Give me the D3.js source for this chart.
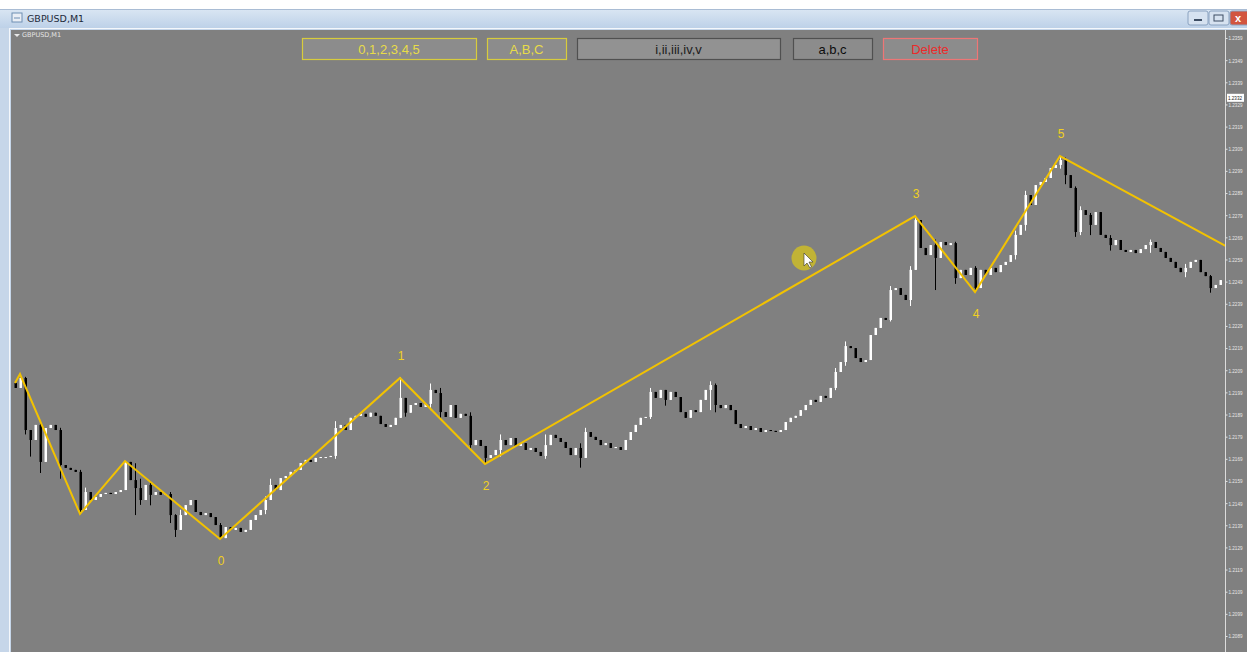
<!DOCTYPE html>
<html lang="en">
<head>
<meta charset="UTF-8">
<title>GBPUSD,M1</title>
<script src="https://d3js.org/d3.v7.min.js"></script>
<style>
  html, body { margin: 0; padding: 0; background: #ffffff; overflow: hidden; }
  svg { display: block; }
</style>
</head>
<body>
<div id="chart"></div>
<script>

// M1 closes, one per bar (open = previous close)
const closes = [
  1.22010,1.22055,1.21820,1.21775,1.21843,1.21676,1.21829,1.21843,1.21820,1.21662,
  1.21649,1.21640,1.21631,1.21459,1.21540,1.21504,1.21518,1.21531,1.21536,1.21531,
  1.21540,1.21549,1.21676,1.21594,1.21558,1.21504,1.21572,1.21527,1.21540,1.21527,
  1.21531,1.21436,1.21369,1.21436,1.21481,1.21504,1.21450,1.21436,1.21445,1.21427,
  1.21391,1.21332,1.21382,1.21369,1.21378,1.21360,1.21369,1.21414,1.21436,1.21459,
  1.21504,1.21572,1.21549,1.21603,1.21612,1.21631,1.21640,1.21671,1.21685,1.21676,
  1.21694,1.21698,1.21698,1.21703,1.21829,1.21843,1.21820,1.21875,1.21884,1.21893,
  1.21880,1.21898,1.21884,1.21847,1.21834,1.21843,1.21875,1.21965,1.21898,1.21933,
  1.21942,1.21924,1.21938,1.22001,1.21987,1.21901,1.21879,1.21933,1.21875,1.21893,
  1.21884,1.21752,1.21775,1.21748,1.21694,1.21707,1.21730,1.21775,1.21752,1.21784,
  1.21748,1.21761,1.21730,1.21739,1.21721,1.21703,1.21752,1.21798,1.21784,1.21766,
  1.21739,1.21707,1.21739,1.21694,1.21811,1.21789,1.21775,1.21752,1.21761,1.21739,
  1.21743,1.21730,1.21775,1.21811,1.21843,1.21875,1.21879,1.21992,1.21965,1.22001,
  1.21956,1.21992,1.21969,1.21901,1.21875,1.21910,1.21901,1.21956,1.22001,1.22023,
  1.21933,1.21919,1.21933,1.21910,1.21847,1.21829,1.21838,1.21820,1.21829,1.21811,
  1.21820,1.21816,1.21811,1.21820,1.21856,1.21875,1.21884,1.21910,1.21933,1.21956,
  1.21947,1.21974,1.21965,1.22010,1.22082,1.22127,1.22199,1.22190,1.22145,1.22127,
  1.22136,1.22249,1.22281,1.22326,1.22317,1.22452,1.22461,1.22430,1.22407,1.22543,
  1.22768,1.22642,1.22610,1.22655,1.22597,1.22669,1.22655,1.22664,1.22506,1.22543,
  1.22520,1.22552,1.22461,1.22543,1.22520,1.22552,1.22533,1.22565,1.22579,1.22610,
  1.22701,1.22746,1.22881,1.22836,1.22926,1.22940,1.22958,1.23003,1.23017,1.23039,
  1.22971,1.22913,1.22714,1.22813,1.22791,1.22746,1.22804,1.22701,1.22687,1.22655,
  1.22678,1.22633,1.22624,1.22633,1.22619,1.22637,1.22655,1.22669,1.22642,1.22624,
  1.22597,1.22579,1.22552,1.22533,1.22552,1.22579,1.22588,1.22533,1.22515,1.22461,
  1.22475,1.22497
];
const firstOpen = 1.22032;

// bars with visible wicks (index, high, low)
const wickBars  = [2, 3, 5, 9, 13, 14, 22, 24, 25, 27, 31, 32, 33, 41, 50, 51, 64, 77, 78, 83, 85, 91, 94, 97, 106, 113, 114, 127, 130, 139, 140, 164, 166, 175, 179, 180, 184, 188, 192, 200, 202, 209, 210, 212, 213, 215, 219, 227, 234, 239];
const wickHighs = [1.22060, 1.21800, 1.21860, 1.21830, 1.21640, 1.21560, 1.21680, 1.21670, 1.21600, 1.21590, 1.21540, 1.21440, 1.21460, 1.21400, 1.21520, 1.21600, 1.21860, 1.22059, 1.21960, 1.22030, 1.22010, 1.21900, 1.21740, 1.21800, 1.21800, 1.21760, 1.21830, 1.22010, 1.21990, 1.22040, 1.22030, 1.22100, 1.22220, 1.22470, 1.22560, 1.22786, 1.22680, 1.22670, 1.22560, 1.22720, 1.22900, 1.23057, 1.23050, 1.22920, 1.22830, 1.22800, 1.22700, 1.22680, 1.22570, 1.22520];
const wickLows  = [1.21800, 1.21700, 1.21626, 1.21600, 1.21441, 1.21480, 1.21590, 1.21436, 1.21482, 1.21480, 1.21400, 1.21337, 1.21400, 1.21328, 1.21440, 1.21540, 1.21690, 1.21880, 1.21880, 1.21910, 1.21870, 1.21730, 1.21667, 1.21700, 1.21690, 1.21650, 1.21700, 1.21870, 1.21930, 1.21910, 1.21900, 1.22000, 1.22110, 1.22310, 1.22380, 1.22740, 1.22452, 1.22480, 1.22443, 1.22590, 1.22720, 1.23000, 1.22930, 1.22692, 1.22700, 1.22700, 1.22630, 1.22620, 1.22510, 1.22440];

// Elliott wave polyline: bar index and price of each vertex
const waveIdx   = [0, 1, 13, 22, 41, 77, 94, 180, 192, 209, 244];
const wavePrice = [1.22032, 1.22073, 1.21441, 1.21680, 1.21328, 1.22055, 1.21667, 1.22786, 1.22443, 1.23057, 1.22628];

// wave labels
const labelText = ["0", "1", "2", "3", "4", "5"];
const labelIdx  = [41, 77, 94, 180, 192, 209];
const labelSide = ["below", "above", "below", "above", "below", "above"];

// price scale ticks
const tickValues = [1.2359,1.2349,1.2339,1.2329,1.2319,1.2309,1.2299,1.2289,1.2279,1.2269,1.2259,1.2249,1.2239,
                    1.2229,1.2219,1.2209,1.2199,1.2189,1.2179,1.2169,1.2159,1.2149,1.2139,1.2129,1.2119,1.2109,1.2099,1.2089];
const currentPrice = 1.2332;

// buttons on the chart
const buttonText = ["0,1,2,3,4,5", "A,B,C", "i,ii,iii,iv,v", "a,b,c", "Delete"];

const W = 1247, H = 652;
const chartLeft = 11, chartTop = 30, axisX = 1225;
const tinyFont = "'Liberation Sans Narrow', 'Liberation Sans', Arial, sans-serif";

const svg = d3.select("#chart").append("svg")
  .attr("width", W)
  .attr("height", H)
  .style("font-family", "'Liberation Sans', Arial, sans-serif");

// ---- window chrome ----
const defs = svg.append("defs");
const grad = defs.append("linearGradient").attr("id", "titleGrad").attr("x1", 0).attr("y1", 0).attr("x2", 0).attr("y2", 1);
grad.append("stop").attr("offset", "0%").attr("stop-color", "#dae6f3");
grad.append("stop").attr("offset", "100%").attr("stop-color", "#bdd1e8");

svg.append("rect").attr("x", 0).attr("y", 9).attr("width", W).attr("height", H - 9).attr("fill", "#c6d6e9");
svg.append("rect").attr("x", 0).attr("y", 9).attr("width", W).attr("height", 19).attr("fill", "url(#titleGrad)");
svg.append("line").attr("x1", 0).attr("x2", W).attr("y1", 9.5).attr("y2", 9.5).attr("stroke", "#a9bcd4");

// title icon + text
svg.append("rect").attr("x", 12).attr("y", 13).attr("width", 10).attr("height", 9)
  .attr("fill", "#e9eef5").attr("stroke", "#6f8fb3");
svg.append("line").attr("x1", 14).attr("x2", 20).attr("y1", 18).attr("y2", 18).attr("stroke", "#6f8fb3");
svg.append("text").attr("x", 27).attr("y", 22).attr("font-size", 9.5)
  .attr("font-family", "'DejaVu Sans', sans-serif").attr("fill", "#1e2a3a").text("GBPUSD,M1");

// min / max / close
const winBtns = [{x: 1188, w: 20, c: "#d6e2f0"}, {x: 1209, w: 20, c: "#d6e2f0"}, {x: 1230, w: 20, c: "#d2553f"}];
svg.selectAll(".winbtn").data(winBtns).enter().append("rect")
  .attr("x", d => d.x).attr("y", 11).attr("width", d => d.w).attr("height", 14).attr("rx", 2)
  .attr("fill", d => d.c).attr("stroke", "#8aa2c0");
svg.append("line").attr("x1", 1194).attr("x2", 1202).attr("y1", 20).attr("y2", 20).attr("stroke", "#3d4d63").attr("stroke-width", 2);
svg.append("rect").attr("x", 1214).attr("y", 15).attr("width", 9).attr("height", 6).attr("fill", "none").attr("stroke", "#3d4d63");
svg.append("text").attr("x", 1235).attr("y", 22).attr("font-size", 11).attr("font-weight", "bold").attr("fill", "#fff").text("x");

// inner frame
svg.append("rect").attr("x", chartLeft - 1.5).attr("y", chartTop - 1.5).attr("width", W).attr("height", H)
  .attr("fill", "none").attr("stroke", "#f4f7fb");
svg.append("rect").attr("x", chartLeft).attr("y", chartTop).attr("width", W - chartLeft).attr("height", H - chartTop)
  .attr("fill", "#808080");

// ---- scales ----
const x = d3.scaleLinear().domain([0, closes.length - 1]).range([15, 15 + 5 * (closes.length - 1)]);
const y = d3.scaleLinear().domain([1.2089, 1.2359]).range([636, 38]);

defs.append("clipPath").attr("id", "plotClip")
  .append("rect").attr("x", chartLeft).attr("y", chartTop).attr("width", axisX - chartLeft).attr("height", H - chartTop);

const plot = svg.append("g").attr("clip-path", "url(#plotClip)");

// ---- candles ----
const bars = closes.map((c, i) => {
  const o = i === 0 ? firstOpen : closes[i - 1];
  const k = wickBars.indexOf(i);
  const hi = k >= 0 ? Math.max(wickHighs[k], o, c) : Math.max(o, c);
  const lo = k >= 0 ? Math.min(wickLows[k], o, c) : Math.min(o, c);
  return {i, o, c, hi, lo};
});

const candle = plot.selectAll(".candle").data(bars).enter().append("g").attr("class", "candle");

candle.append("line")
  .attr("x1", d => Math.round(x(d.i)) + 0.5)
  .attr("x2", d => Math.round(x(d.i)) + 0.5)
  .attr("y1", d => y(d.hi))
  .attr("y2", d => y(d.lo))
  .attr("stroke", d => d.c >= d.o ? "#ffffff" : "#000000")
  .attr("stroke-width", 1);

candle.append("rect")
  .attr("x", d => Math.round(x(d.i)) - 0.5)
  .attr("y", d => y(Math.max(d.o, d.c)))
  .attr("width", 2.5)
  .attr("height", d => Math.max(1, Math.abs(y(d.o) - y(d.c))))
  .attr("fill", d => d.c >= d.o ? "#ffffff" : "#000000");

// ---- wave line ----
const wave = waveIdx.map((v, k) => ({i: v, p: wavePrice[k]}));
plot.append("path")
  .datum(wave)
  .attr("fill", "none")
  .attr("stroke", "#f2c200")
  .attr("stroke-width", 2)
  .attr("stroke-linejoin", "miter")
  .attr("d", d3.line().x(d => x(d.i)).y(d => y(d.p)));

// wave labels
plot.selectAll(".wlabel").data(labelText).enter().append("text")
  .attr("class", "wlabel")
  .attr("x", (d, k) => x(labelIdx[k]) + 1)
  .attr("y", (d, k) => {
    const p = wavePrice[waveIdx.indexOf(labelIdx[k])];
    return labelSide[k] === "above" ? y(p) - 18 : y(p) + 26;
  })
  .attr("text-anchor", "middle")
  .attr("font-size", 12)
  .attr("fill", "#f0d020")
  .text(d => d);

// chart label top-left
svg.append("path").attr("d", "M14,34 L20,34 L17,37 Z").attr("fill", "#e8e8e8");
svg.append("text").attr("x", 22).attr("y", 37).attr("font-size", 6.5)
  .attr("font-family", "'DejaVu Sans', sans-serif").attr("fill", "#e4e4e4").text("GBPUSD,M1");

// ---- price axis ----
svg.append("line").attr("x1", axisX + 0.5).attr("x2", axisX + 0.5).attr("y1", chartTop).attr("y2", H)
  .attr("stroke", "#dcdcdc").attr("stroke-width", 1);

const axis = d3.axisRight(y).tickValues(tickValues).tickFormat(d3.format(".4f")).tickSize(2).tickPadding(1);
const gAxis = svg.append("g").attr("transform", `translate(${axisX + 0.5},0)`).call(axis);
gAxis.select(".domain").remove();
gAxis.selectAll(".tick line").attr("stroke", "#e0e0e0");
gAxis.selectAll(".tick text").attr("fill", "#e8e8e8").attr("font-size", 6)
  .attr("font-family", tinyFont)
  .attr("textLength", 14).attr("lengthAdjust", "spacingAndGlyphs");

// current price tag
svg.append("rect").attr("x", axisX + 2).attr("y", y(currentPrice) - 4).attr("width", 17).attr("height", 8).attr("fill", "#ffffff");
svg.append("text").attr("x", axisX + 3).attr("y", y(currentPrice) + 2.2).attr("font-size", 6)
  .attr("font-family", tinyFont).attr("fill", "#202020")
  .attr("textLength", 14).attr("lengthAdjust", "spacingAndGlyphs")
  .text(d3.format(".4f")(currentPrice));

// ---- buttons ----
const btnLayout = [
  {x: 302, w: 174, stroke: "#d8cc3c", color: "#e8dc48"},
  {x: 487, w: 79,  stroke: "#d8cc3c", color: "#e8dc48"},
  {x: 577, w: 203, stroke: "#505050", color: "#1c1c1c"},
  {x: 793, w: 79,  stroke: "#505050", color: "#0c0c0c"},
  {x: 883, w: 94,  stroke: "#ee7676", color: "#ec2a2a"}
];
const btn = svg.selectAll(".btn").data(buttonText).enter().append("g").attr("class", "btn");
btn.append("rect")
  .attr("x", (d, k) => btnLayout[k].x + 0.5).attr("y", 38.5)
  .attr("width", (d, k) => btnLayout[k].w).attr("height", 21)
  .attr("fill", (d, k) => k === 2 ? "#929292" : "#8c8c8c")
  .attr("stroke", (d, k) => btnLayout[k].stroke)
  .attr("stroke-width", 1.2);
btn.append("text")
  .attr("x", (d, k) => btnLayout[k].x + btnLayout[k].w / 2).attr("y", 53.5)
  .attr("text-anchor", "middle").attr("font-size", 13)
  .attr("fill", (d, k) => btnLayout[k].color)
  .text(d => d);

// ---- mouse cursor highlight ----
svg.append("circle").attr("cx", 804).attr("cy", 258).attr("r", 12.5).attr("fill", "#c8b82c").attr("opacity", 0.9);
svg.append("path").attr("d", "M804,253 L804,266 L807,263 L810,268 L811.5,267 L809,262 L813,262 Z")
  .attr("fill", "#ffffff").attr("stroke", "#333").attr("stroke-width", 0.6);

</script>
</body>
</html>
